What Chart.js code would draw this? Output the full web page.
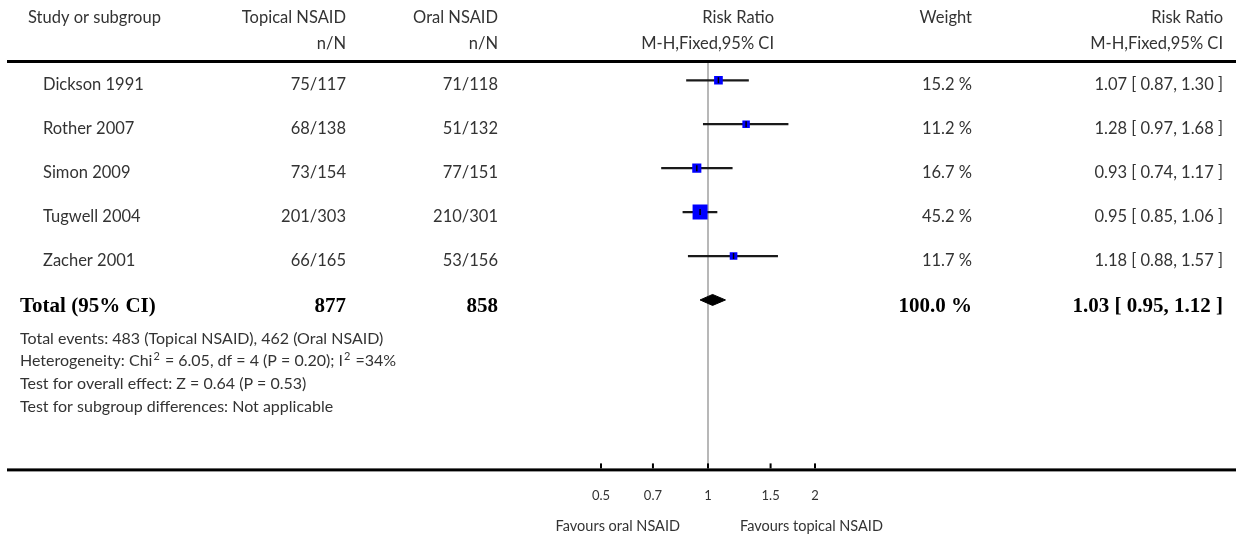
<!DOCTYPE html>
<html>
<head>
<meta charset="utf-8">
<script src="https://cdn.jsdelivr.net/npm/chart.js@4/dist/chart.umd.min.js"></script>
<style>
body { margin: 0; background: #fff; }
canvas { display: block; }
</style>
</head>
<body>
<canvas id="forestPlot" width="1236" height="540"></canvas>
<script>
// study data
var studies = ['Dickson 1991', 'Rother 2007', 'Simon 2009', 'Tugwell 2004', 'Zacher 2001'];
var topicalNN = ['75/117', '68/138', '73/154', '201/303', '66/165'];
var oralNN = ['71/118', '51/132', '77/151', '210/301', '53/156'];
var weights = [15.2, 11.2, 16.7, 45.2, 11.7];
var riskRatio = [1.07, 1.28, 0.93, 0.95, 1.18];
var ciLow = [0.87, 0.97, 0.74, 0.85, 0.88];
var ciHigh = [1.30, 1.68, 1.17, 1.06, 1.57];

// pooled result
var totalLabel = 'Total (95% CI)';
var totalTopical = '877';
var totalOral = '858';
var totalWeight = 100.0;
var totalRR = 1.03;
var totalLow = 0.95;
var totalHigh = 1.12;

var xTicks = [0.5, 0.7, 1, 1.5, 2];
var footnotes = [
    'Total events: 483 (Topical NSAID), 462 (Oral NSAID)',
    'Heterogeneity: Chi\u00B2 = 6.05, df = 4 (P = 0.20); I\u00B2 =34%',
    'Test for overall effect: Z = 0.64 (P = 0.53)',
    'Test for subgroup differences: Not applicable'
];
var favoursLeft = 'Favours oral NSAID';
var favoursRight = 'Favours topical NSAID';

var sans = 'Lato';
var serif = '"Liberation Serif"';
var txt = '#333';

function fmtCI(r, lo, hi) {
    return r.toFixed(2) + ' [ ' + lo.toFixed(2) + ', ' + hi.toFixed(2) + ' ]';
}

var totalRow = studies.length;

// CI lines, squares, centre marks
var ciData = [], pointData = [];
for (var i = 0; i < studies.length; i++) {
    ciData.push({ x: [ciLow[i], ciHigh[i]], y: i });
    pointData.push({ x: riskRatio[i], y: i });
}
var diamondData = [
    { x: totalLow, y: totalRow },
    { x: totalRR, y: totalRow - 0.125 },
    { x: totalHigh, y: totalRow },
    { x: totalRR, y: totalRow + 0.125 },
    { x: totalLow, y: totalRow }
];

var tablePlugin = {
    id: 'tableText',
    beforeDatasetsDraw: function (chart) {
        var ctx = chart.ctx, a = chart.chartArea, xs = chart.scales.x;
        var x1 = xs.getPixelForValue(1);
        ctx.save();
        ctx.strokeStyle = '#a0a0a0';
        ctx.lineWidth = 1.5;
        ctx.beginPath();
        ctx.moveTo(x1, a.top);
        ctx.lineTo(x1, a.bottom);
        ctx.stroke();
        ctx.restore();
    },
    afterDraw: function (chart) {
        var ctx = chart.ctx, a = chart.chartArea, xs = chart.scales.x, ys = chart.scales.y;
        ctx.save();
        // rules
        ctx.fillStyle = '#000';
        ctx.fillRect(7, a.top - 3, 1236 - 7, 3);
        ctx.fillRect(7, a.bottom, 1236 - 7, 3);
        // tick marks above the axis
        xTicks.forEach(function (t) {
            var px = xs.getPixelForValue(t);
            ctx.fillRect(px - 1, a.bottom - 5, 2, 5);
        });

        function put(s, x, y, align) {
            ctx.textAlign = align;
            ctx.fillText(s, x, y);
        }
        ctx.textBaseline = 'alphabetic';
        ctx.fillStyle = txt;
        ctx.font = '16.5px ' + sans;
        // headers
        put('Study or subgroup', 28, 22.5, 'left');
        put('Topical NSAID', 346, 22.5, 'right');
        put('Oral NSAID', 498, 22.5, 'right');
        put('Risk Ratio', 774, 22.5, 'right');
        put('Weight', 972, 22.5, 'right');
        put('Risk Ratio', 1223, 22.5, 'right');
        put('n/N', 346, 49, 'right');
        put('n/N', 498, 49, 'right');
        put('M-H,Fixed,95% CI', 774, 49, 'right');
        put('M-H,Fixed,95% CI', 1223, 49, 'right');

        // study rows
        for (var i = 0; i < studies.length; i++) {
            var by = ys.getPixelForValue(i) + 9.5;
            put(studies[i], 43, by, 'left');
            put(topicalNN[i], 346, by, 'right');
            put(oralNN[i], 498, by, 'right');
            put(weights[i].toFixed(1) + ' %', 972, by, 'right');
            put(fmtCI(riskRatio[i], ciLow[i], ciHigh[i]), 1223, by, 'right');
        }

        // total row
        var ty = ys.getPixelForValue(totalRow) + 12;
        ctx.fillStyle = '#000';
        ctx.font = 'bold 21px ' + serif;
        put(totalLabel, 20, ty, 'left');
        put(totalTopical, 346, ty, 'right');
        put(totalOral, 498, ty, 'right');
        put(totalWeight.toFixed(1) + ' %', 972, ty, 'right');
        put(fmtCI(totalRR, totalLow, totalHigh), 1223, ty, 'right');

        // footnotes, with superscripts drawn raised
        ctx.fillStyle = txt;
        ctx.textAlign = 'left';
        footnotes.forEach(function (f, k) {
            var fy = 343.5 + k * 22.7;
            var fx = 20;
            f.split('\u00B2').forEach(function (part, j) {
                if (j > 0) {
                    ctx.font = '11px ' + sans;
                    ctx.fillText('2', fx + 1, fy - 6);
                    fx += ctx.measureText('2').width + 2;
                }
                ctx.font = '16px ' + sans;
                ctx.fillText(part, fx, fy);
                fx += ctx.measureText(part).width;
            });
        });

        // favours labels
        var x1 = xs.getPixelForValue(1);
        ctx.font = '14.5px ' + sans;
        put(favoursLeft, x1 - 28, 531, 'right');
        put(favoursRight, x1 + 32, 531, 'left');
        ctx.restore();
    }
};

new Chart(document.getElementById('forestPlot'), {
    type: 'scatter',
    data: {
        datasets: [
            {
                type: 'bar',
                indexAxis: 'y',
                data: ciData,
                backgroundColor: '#1a1a1a',
                borderWidth: 0,
                barThickness: 1.6,
                order: 3
            },
            {
                data: pointData,
                pointStyle: 'rect',
                backgroundColor: '#0000ff',
                borderWidth: 0,
                pointRadius: function (c) {
                    var side = 15 * Math.sqrt(weights[c.dataIndex] / 45.2);
                    return side / Math.SQRT2;
                },
                order: 2
            },
            {
                data: pointData,
                pointStyle: 'line',
                rotation: 90,
                pointRadius: 3,
                borderColor: '#000',
                borderWidth: 1.5,
                order: 1
            },
            {
                type: 'line',
                data: diamondData,
                showLine: true,
                fill: 'shape',
                backgroundColor: '#000',
                borderColor: '#000',
                borderWidth: 1,
                pointRadius: 0,
                tension: 0,
                order: 2
            }
        ]
    },
    options: {
        responsive: false,
        animation: false,
        devicePixelRatio: 1,
        events: [],
        layout: { padding: { left: 601, right: 421, top: 63, bottom: 16 } },
        plugins: { legend: { display: false }, tooltip: { enabled: false } },
        scales: {
            x: {
                type: 'logarithmic',
                min: 0.5,
                max: 2,
                offset: false,
                grid: { display: false, drawTicks: false },
                border: { display: false },
                afterBuildTicks: function (s) {
                    s.ticks = xTicks.map(function (v) { return { value: v }; });
                },
                ticks: {
                    autoSkip: false,
                    maxRotation: 0,
                    padding: 20,
                    color: txt,
                    font: { family: sans, size: 13 },
                    callback: function (v) { return String(v); }
                }
            },
            y: {
                type: 'linear',
                display: false,
                reverse: true,
                offset: false,
                grid: { offset: false },
                min: -0.393,
                max: 8.834
            }
        }
    },
    plugins: [tablePlugin]
});
</script>
</body>
</html>
